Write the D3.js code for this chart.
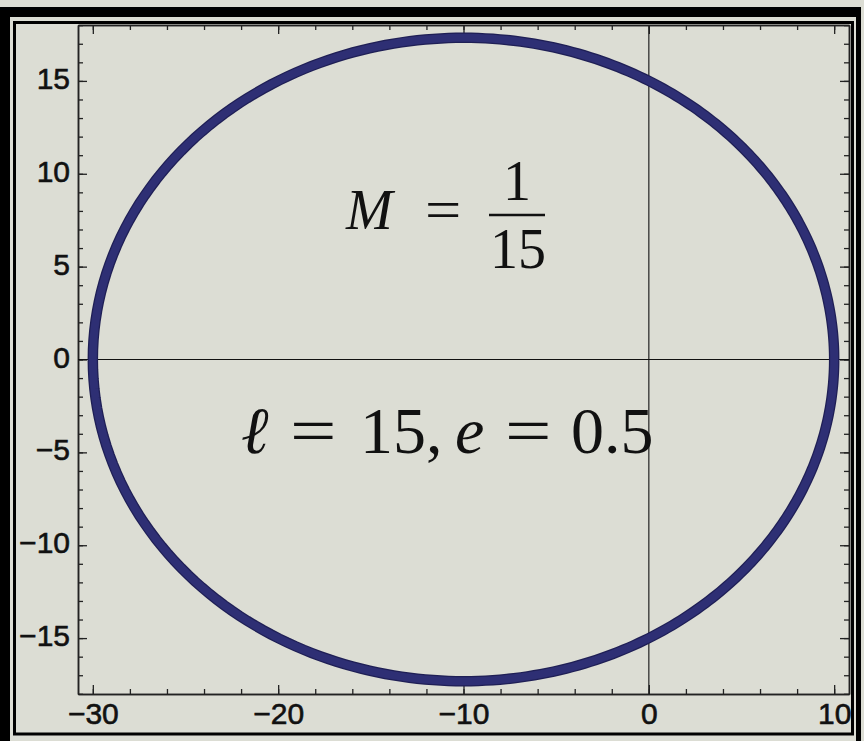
<!DOCTYPE html>
<html>
<head>
<meta charset="utf-8">
<script src="https://cdn.jsdelivr.net/npm/d3@7/dist/d3.min.js"></script>
<style>
  html, body { margin: 0; padding: 0; background: #dcddd4; }
  svg { display: block; }
  .tick text { font-family: "Liberation Sans", Arial, Helvetica, sans-serif; font-size: 30px; fill: #111; stroke: #111; stroke-width: 0.6px; }
</style>
</head>
<body>
<script>
// Orbit parameters (semi-latus rectum and eccentricity) and the mass label
const ell = 15;
const ecc = 0.5;
const massNum = "1";
const massDen = "15";

// Axis ranges and ticks
const xDomain = [-30.8, 10.8];
const yDomain = [-18.01, 18.01];
const xMajorTicks = [-30, -20, -10, 0, 10];
const xMinorTicks = d3.range(-30, 11, 2);
const yMajorTicks = [-15, -10, -5, 0, 5, 10, 15];
const yMinorTicks = d3.range(-18, 19, 1);

// Polar angles at which the orbit r(φ) = ℓ / (1 + e cos φ) is sampled
const phi = d3.range(0, 360, 1).map(d => d * Math.PI / 180);
const orbit = phi.map(p => {
  const r = ell / (1 + ecc * Math.cos(p));
  return [r * Math.cos(p), r * Math.sin(p)];
});

const W = 864, H = 741;
const svg = d3.select("body").append("svg").attr("width", W).attr("height", H);

svg.append("rect").attr("width", W).attr("height", H).attr("fill", "#dcddd4");

// Heavy outer border and thin inner border
svg.append("rect").attr("x", 0).attr("y", 7).attr("width", 10).attr("height", H - 7).attr("fill", "#000");
svg.append("rect").attr("x", 0).attr("y", 7).attr("width", 861).attr("height", 10).attr("fill", "#000");
svg.append("rect").attr("x", 856).attr("y", 7).attr("width", 5).attr("height", H - 7).attr("fill", "#000");
svg.append("rect").attr("x", 14.5).attr("y", 22.5).attr("width", 838).attr("height", 711.5)
  .attr("fill", "none").attr("stroke", "#000").attr("stroke-width", 3);

const pLeft = 78, pRight = 849, pTop = 25, pBottom = 694;
const x = d3.scaleLinear().domain(xDomain).range([pLeft, pRight]);
const y = d3.scaleLinear().domain(yDomain).range([pBottom, pTop]);

const minus = s => String(s).replace("-", "\u2212");

// Minor ticks on all four sides
svg.append("g").attr("transform", `translate(0,${pBottom})`)
  .call(d3.axisBottom(x).tickValues(xMinorTicks).tickSizeInner(-5).tickSizeOuter(0).tickFormat(""));
svg.append("g").attr("transform", `translate(0,${pTop})`)
  .call(d3.axisTop(x).tickValues(xMinorTicks).tickSizeInner(-5).tickSizeOuter(0).tickFormat(""));
svg.append("g").attr("transform", `translate(${pLeft},0)`)
  .call(d3.axisLeft(y).tickValues(yMinorTicks).tickSizeInner(-5).tickSizeOuter(0).tickFormat(""));
svg.append("g").attr("transform", `translate(${pRight},0)`)
  .call(d3.axisRight(y).tickValues(yMinorTicks).tickSizeInner(-5).tickSizeOuter(0).tickFormat(""));

// Major ticks, labelled on bottom and left
svg.append("g").attr("transform", `translate(0,${pBottom})`)
  .call(d3.axisBottom(x).tickValues(xMajorTicks).tickSizeInner(-9).tickSizeOuter(0).tickPadding(9).tickFormat(minus));
svg.append("g").attr("transform", `translate(0,${pTop})`)
  .call(d3.axisTop(x).tickValues(xMajorTicks).tickSizeInner(-9).tickSizeOuter(0).tickFormat(""));
const yl = svg.append("g").attr("transform", `translate(${pLeft},0)`)
  .call(d3.axisLeft(y).tickValues(yMajorTicks).tickSizeInner(-9).tickSizeOuter(0).tickPadding(8).tickFormat(minus));
yl.selectAll(".tick text").attr("dy", "0.25em");
svg.append("g").attr("transform", `translate(${pRight},0)`)
  .call(d3.axisRight(y).tickValues(yMajorTicks).tickSizeInner(-9).tickSizeOuter(0).tickFormat(""));

svg.selectAll(".domain").attr("stroke", "#222").attr("stroke-width", 1.5);
svg.selectAll(".tick line").attr("stroke", "#222").attr("stroke-width", 1.3);

// Coordinate axes through the origin
svg.append("line").attr("x1", x(0)).attr("x2", x(0)).attr("y1", pTop).attr("y2", pBottom)
  .attr("stroke", "#222").attr("stroke-width", 1.2);
svg.append("line").attr("x1", pLeft).attr("x2", pRight).attr("y1", y(0)).attr("y2", y(0))
  .attr("stroke", "#111").attr("stroke-width", 1.2);

// The orbit
const line = d3.line().x(d => x(d[0])).y(d => y(d[1])).curve(d3.curveLinearClosed);
svg.append("path").datum(orbit).attr("d", line)
  .attr("fill", "none").attr("stroke", "#1f1f55").attr("stroke-width", 10.5);
svg.append("path").datum(orbit).attr("d", line)
  .attr("fill", "none").attr("stroke", "#2e2f74").attr("stroke-width", 8);

// Annotations
const serif = "'Liberation Serif', 'DejaVu Serif', 'Times New Roman', serif";
const t1 = svg.append("text").attr("font-family", serif).attr("font-size", 56).attr("fill", "#111");
t1.append("tspan").attr("x", 346).attr("y", 229).attr("font-style", "italic").text("M");
svg.append("text").attr("font-family", serif).attr("font-size", 56).attr("fill", "#111")
  .attr("transform", "translate(425,229) scale(1.15,1)").text("=");
svg.append("text").attr("font-family", serif).attr("font-size", 56).attr("fill", "#111")
  .attr("x", 517).attr("y", 200).attr("text-anchor", "middle").text(massNum);
svg.append("line").attr("x1", 489).attr("x2", 545).attr("y1", 215).attr("y2", 215)
  .attr("stroke", "#111").attr("stroke-width", 2.4);
svg.append("text").attr("font-family", serif).attr("font-size", 56).attr("fill", "#111")
  .attr("x", 518).attr("y", 268).attr("text-anchor", "middle").text(massDen);

const t2 = svg.append("text").attr("font-family", serif).attr("font-size", 66).attr("fill", "#111");
t2.append("tspan").attr("x", 241).attr("y", 453).attr("font-style", "italic").text("\u2113");
t2.append("tspan").attr("x", 360).attr("y", 453).text(ell + ",");
t2.append("tspan").attr("x", 455).attr("y", 453).attr("font-style", "italic").text("e");
t2.append("tspan").attr("x", 571).attr("y", 453).text(String(ecc));
svg.append("text").attr("font-family", serif).attr("font-size", 66).attr("fill", "#111")
  .attr("transform", "translate(290,453) scale(1.25,1)").text("=");
svg.append("text").attr("font-family", serif).attr("font-size", 66).attr("fill", "#111")
  .attr("transform", "translate(505,453) scale(1.25,1)").text("=");
</script>
</body>
</html>
